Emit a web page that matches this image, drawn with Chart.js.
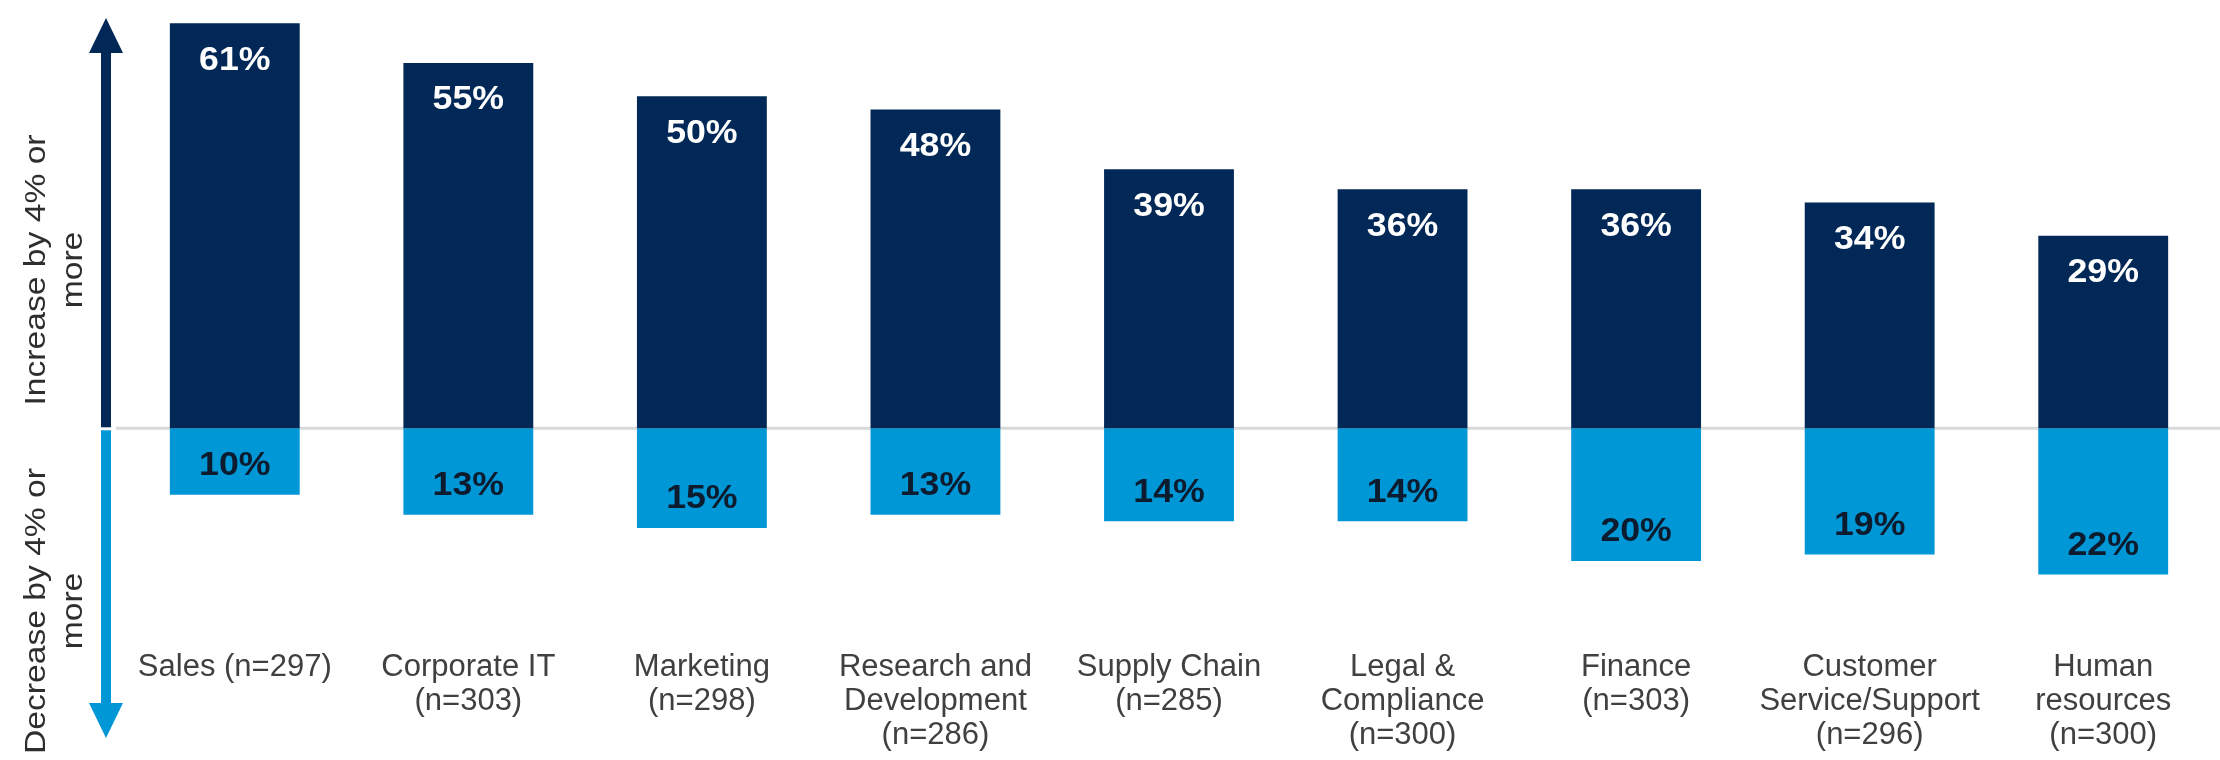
<!DOCTYPE html>
<html>
<head>
<meta charset="utf-8">
<title>Budget change by function</title>
<script src="https://cdn.jsdelivr.net/npm/chart.js@4.4.0/dist/chart.umd.min.js"></script>
<style>
  html, body { margin: 0; padding: 0; background: #fff; }
  #chart { display: block; }
</style>
</head>
<body>
<canvas id="chart" width="2220" height="760"></canvas>
<script>
// functions surveyed, one array entry per line of the axis label
var categories = [
  ['Sales (n=297)'],
  ['Corporate IT', '(n=303)'],
  ['Marketing', '(n=298)'],
  ['Research and', 'Development', '(n=286)'],
  ['Supply Chain', '(n=285)'],
  ['Legal &', 'Compliance', '(n=300)'],
  ['Finance', '(n=303)'],
  ['Customer', 'Service/Support', '(n=296)'],
  ['Human', 'resources', '(n=300)']
];
// share of respondents, in %
var increase = [61, 55, 50, 48, 39, 36, 36, 34, 29];
var decrease = [10, 13, 15, 13, 14, 14, 20, 19, 22];
var sideLabels = [
  ['Increase by 4% or', 'more'],
  ['Decrease by 4% or', 'more']
];

var NAVY = '#012856';
var BLUE = '#0097d6';
var FONT = '"Liberation Sans", Arial, Helvetica, sans-serif';

function drawSideLabel(ctx, lines, cy) {
  var baselines = [45, 82];
  ctx.fillStyle = '#2e2e2e';
  ctx.font = '29px ' + FONT;
  ctx.textAlign = 'center';
  ctx.textBaseline = 'alphabetic';
  for (var i = 0; i < lines.length; i++) {
    ctx.save();
    ctx.translate(baselines[i], cy);
    ctx.rotate(-Math.PI / 2);
    ctx.scale(1.16, 1);
    ctx.fillText(lines[i], 0, 0);
    ctx.restore();
  }
}

var extras = {
  id: 'extras',
  beforeDatasetsDraw: function(chart) {
    var ctx = chart.ctx;
    var zeroY = chart.scales.y.getPixelForValue(0);
    var ax = 106;
    ctx.save();

    // baseline at 0%
    ctx.strokeStyle = '#d9d9d9';
    ctx.lineWidth = 3;
    ctx.beginPath();
    ctx.moveTo(116, zeroY);
    ctx.lineTo(chart.width, zeroY);
    ctx.stroke();

    // double arrow: up = increase, down = decrease
    ctx.fillStyle = NAVY;
    ctx.fillRect(ax - 5, 50, 10, zeroY - 1 - 50);
    ctx.beginPath();
    ctx.moveTo(ax, 18);
    ctx.lineTo(ax + 17, 53);
    ctx.lineTo(ax - 17, 53);
    ctx.closePath();
    ctx.fill();

    ctx.fillStyle = BLUE;
    ctx.fillRect(ax - 5, zeroY + 2, 10, 706 - zeroY - 2);
    ctx.beginPath();
    ctx.moveTo(ax, 738);
    ctx.lineTo(ax + 17, 703);
    ctx.lineTo(ax - 17, 703);
    ctx.closePath();
    ctx.fill();

    drawSideLabel(ctx, sideLabels[0], 270);
    drawSideLabel(ctx, sideLabels[1], 611);
    ctx.restore();
  },
  afterDatasetsDraw: function(chart) {
    var ctx = chart.ctx;
    chart.data.datasets.forEach(function(ds, di) {
      chart.getDatasetMeta(di).data.forEach(function(bar, i) {
        var v = ds.data[i];
        var y = v >= 0 ? bar.y + 37 : bar.y - 29;
        ctx.save();
        ctx.translate(bar.x, y);
        ctx.scale(1.05, 1);
        ctx.fillStyle = v >= 0 ? '#ffffff' : '#0c1b2e';
        ctx.font = 'bold 34px ' + FONT;
        ctx.textAlign = 'center';
        ctx.textBaseline = 'middle';
        ctx.fillText(Math.abs(v) + '%', 0, 0);
        ctx.restore();
      });
    });
  }
};

new Chart(document.getElementById('chart'), {
  type: 'bar',
  data: {
    labels: categories,
    datasets: [
      {
        label: 'Increase by 4% or more',
        data: increase,
        backgroundColor: NAVY
      },
      {
        label: 'Decrease by 4% or more',
        data: decrease.map(function(v) { return -v; }),
        backgroundColor: BLUE
      }
    ]
  },
  options: {
    responsive: false,
    animation: false,
    layout: { padding: { top: 0, left: 118, right: -4, bottom: 4 } },
    datasets: {
      bar: { categoryPercentage: 1, barPercentage: 0.556, borderWidth: 0 }
    },
    plugins: {
      legend: { display: false },
      tooltip: { enabled: false }
    },
    scales: {
      x: {
        stacked: true,
        grid: { display: false, drawTicks: false },
        border: { display: false },
        ticks: {
          color: '#404040',
          font: { family: FONT, size: 31, lineHeight: 1.11 },
          padding: 3,
          maxRotation: 0,
          autoSkip: false
        }
      },
      y: {
        stacked: true,
        display: false,
        min: -32.9,
        max: 64.5
      }
    }
  },
  plugins: [extras]
});
</script>
</body>
</html>
